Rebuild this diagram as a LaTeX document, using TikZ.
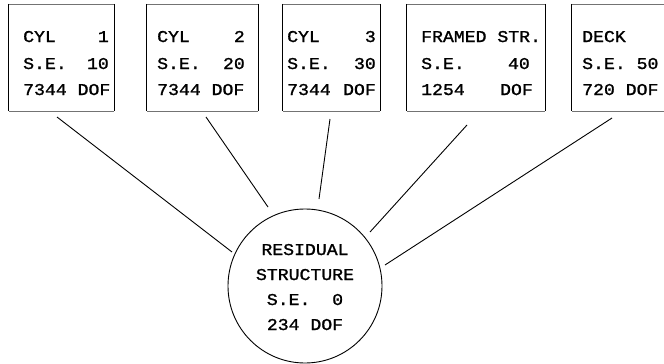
\documentclass[tikz,border=0pt]{standalone}
\usepackage{fontspec}
\newfontfamily\typew[FakeStretch=1.1,FakeBold=1.3]{Liberation Mono}
\begin{document}
\begin{tikzpicture}[x=1pt,y=-1pt,
  txt/.style={inner sep=0pt, font=\typew\fontsize{16.5}{20}\selectfont},
  tl/.style={txt, anchor=base west},
  tr/.style={txt, anchor=base east},
  tc/.style={txt, anchor=base},
  sebox/.style={draw=none, inner sep=0pt, minimum height=107pt},
  side/.style={line width=1.1pt, black},
  rim/.style={line width=0.5pt, black!55},
  conn/.style={line width=0.9pt, black}]
\useasboundingbox (0,0) rectangle (664,364);
% boxes
\node[sebox, minimum width=105pt] (b1) at (61.5,57.5) {};
\node[sebox, minimum width=111pt] (b2) at (202.5,57.5) {};
\node[sebox, minimum width=97pt] (b3) at (331.5,57.5) {};
\node[sebox, minimum width=138pt] (b4) at (476,57.5) {};
\node[sebox, minimum width=92pt] (b5) at (618,57.5) {};
\foreach \b in {b1,b2,b3,b4}{
  \draw[side] (\b.north west) -- (\b.south west);
  \draw[side] (\b.north east) -- (\b.south east);
  \draw[rim] (\b.north west) -- (\b.north east);
  \draw[rim] (\b.south west) -- (\b.south east);
}
\draw[side] (b5.north west) -- (b5.south west);
\draw[rim] (b5.north west) -- (b5.north east);
\draw[rim] (b5.south west) -- (b5.south east);
% box texts
\node[tl] (t1a) at (23,42) {CYL};
\node[tr] (t1b) at (109,42) {1};
\node[tl] (t1c) at (23,69) {S.E.};
\node[tr] (t1d) at (109,69) {10};
\node[tl] (t1e) at (23,95) {7344 DOF};
\node[tl] (t2a) at (157,42) {CYL};
\node[tr] (t2b) at (245,42) {2};
\node[tl] (t2c) at (157,69) {S.E.};
\node[tr] (t2d) at (245,69) {20};
\node[tl] (t2e) at (157,95) {7344 DOF};
\node[tl] (t3a) at (287,42) {CYL};
\node[tr] (t3b) at (376,42) {3};
\node[tl] (t3c) at (287,69) {S.E.};
\node[tr] (t3d) at (376,69) {30};
\node[tl] (t3e) at (287,95) {7344};
\node[tr] (t3f) at (376,95) {DOF};
\node[tl] (t4a) at (421,42) {FRAMED STR.};
\node[tl] (t4c) at (421,69) {S.E.};
\node[tr] (t4d) at (530,69) {40};
\node[tl] (t4e) at (421,95) {1254};
\node[tr] (t4f) at (533,95) {DOF};
\node[tl] (t5a) at (582,42) {DECK};
\node[tl] (t5c) at (582,69) {S.E. 50};
\node[tl] (t5e) at (582,95) {720 DOF};
% residual structure
\node[draw, circle, line width=0.9pt, minimum size=154pt, inner sep=0pt] (res) at (305,286) {};
\node[tc] (r1) at (305,255) {RESIDUAL};
\node[tc] (r2) at (305,280) {STRUCTURE};
\node[tc] (r3) at (305,305) {S.E.\ \ 0};
\node[tc] (r4) at (305,330) {234 DOF};
% connectors
\coordinate (s1) at (57,117);  \coordinate (e1) at (232,252);
\coordinate (s2) at (206,117); \coordinate (e2) at (268,207);
\coordinate (s3) at (330,119); \coordinate (e3) at (319,199);
\coordinate (s4) at (467,125); \coordinate (e4) at (370,232);
\coordinate (s5) at (612,118); \coordinate (e5) at (385,265);
\foreach \i in {1,...,5}{ \draw[conn] (s\i) -- (e\i); }
\end{tikzpicture}
\end{document}
